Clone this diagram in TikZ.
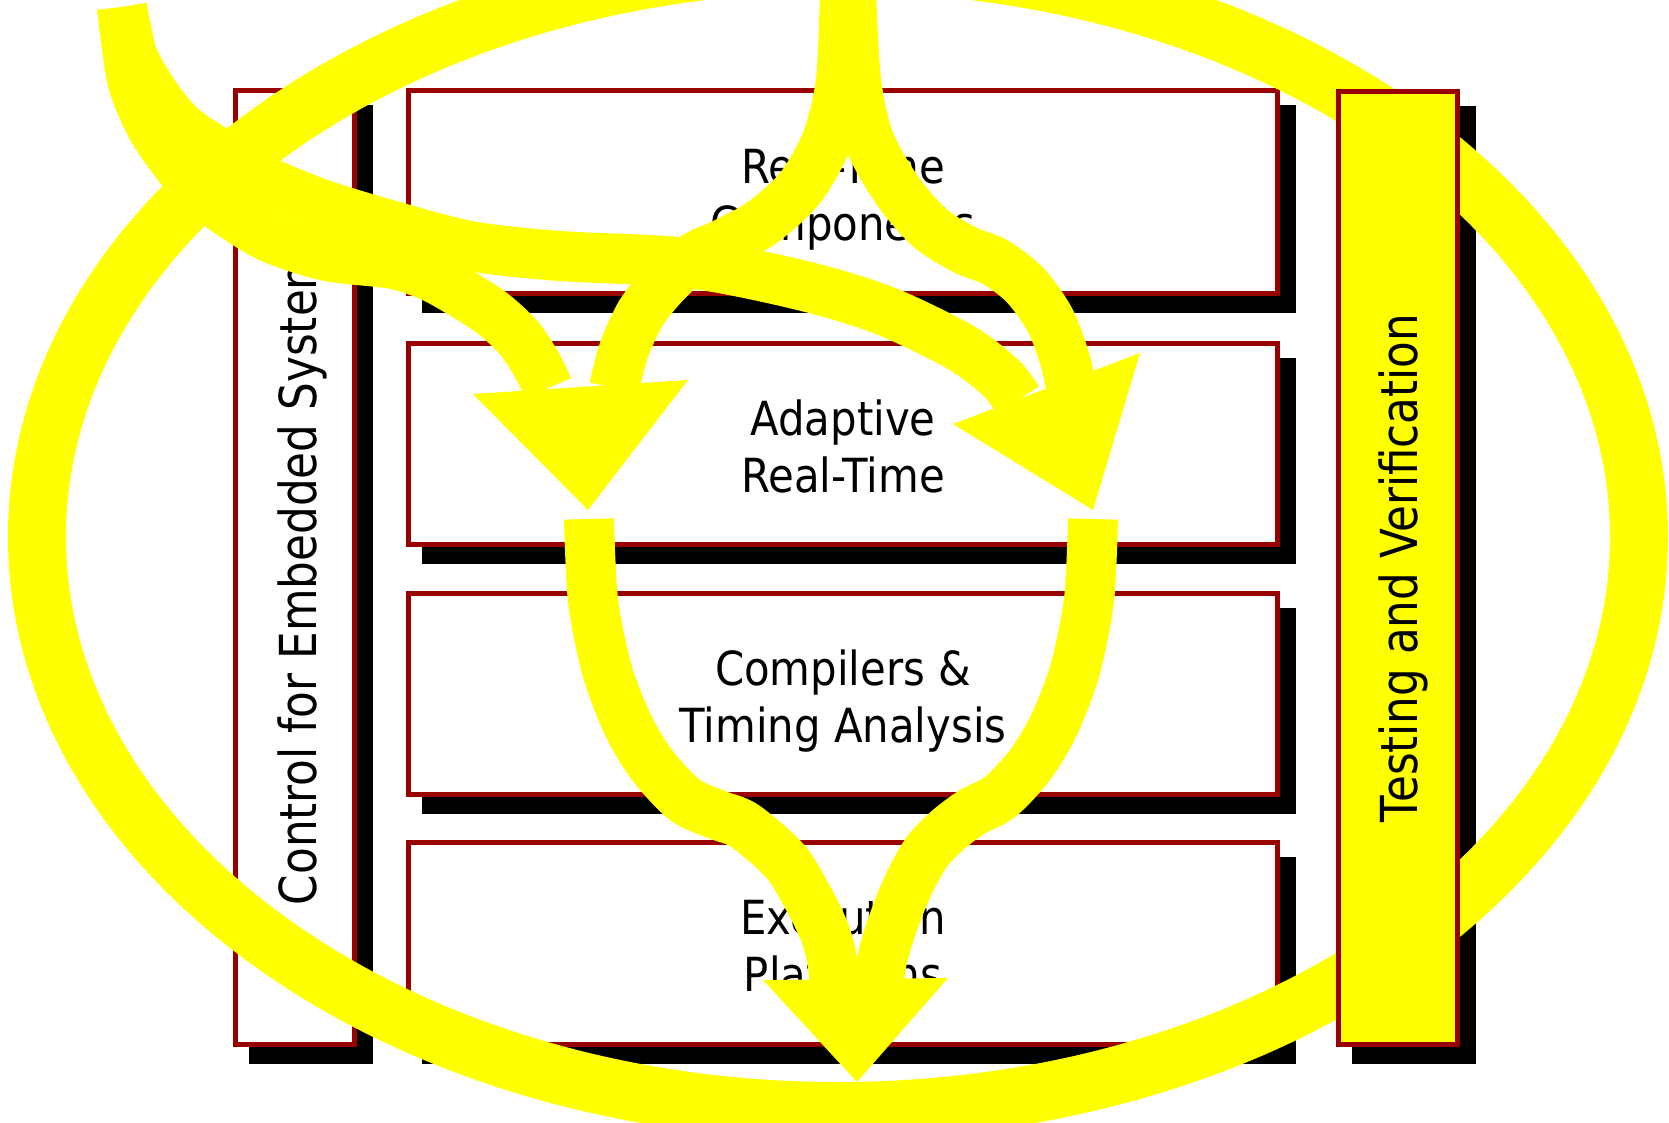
\documentclass[tikz,border=0pt]{standalone}
\usepackage{fontspec}
\setmainfont{DejaVu Sans}
\newfontfamily\boxfont[FakeStretch=0.89]{DejaVu Sans}
\newfontfamily\leftlabfont[FakeStretch=0.857]{DejaVu Sans}
\newfontfamily\rightlabfont[FakeStretch=0.855]{DejaVu Sans}
\definecolor{boxred}{HTML}{990000}
\definecolor{hiyel}{HTML}{FFFF00}
\begin{document}
\begin{tikzpicture}[x=1pt,y=-1pt,
  shadowrect/.style={fill=black},
  framerect/.style={draw=boxred,line width=5pt,fill=white},
  yelframe/.style={draw=boxred,line width=5pt,fill=hiyel},
  boxtext/.style={font=\boxfont\fontsize{47}{57}\selectfont,align=center,inner sep=0pt},
  sidetext/.style={rotate=90,anchor=base,inner sep=0pt},
  band/.style={draw=hiyel,line width=50pt},
  ring/.style={draw=hiyel,line width=58pt},
  headtri/.style={fill=hiyel}]
\path[use as bounding box] (0,0) rectangle (1669,1123);
\clip (0,0) rectangle (1669,1123);
\fill[white] (0,0) rectangle (1669,1123);

% shadows
\fill[shadowrect] (249,105.5) rectangle (373,1064);
\fill[shadowrect] (422,105.5) rectangle (1296,313);
\fill[shadowrect] (422,358) rectangle (1296,564);
\fill[shadowrect] (422,608) rectangle (1296,814);
\fill[shadowrect] (422,857) rectangle (1296,1064);
\fill[shadowrect] (1352,106) rectangle (1476,1064);

% left and middle boxes
\draw[framerect] (235.5,91) rectangle (354,1044.5);
\draw[framerect] (408.5,91) rectangle (1277.5,293.5);
\draw[framerect] (408.5,343.5) rectangle (1277.5,544.5);
\draw[framerect] (408.5,593.5) rectangle (1277.5,794.5);
\draw[framerect] (408.5,842.5) rectangle (1277.5,1044.5);

\node[boxtext] (rtc) at (843,200.3) {\strut Real-Time\\\strut Components};
\node[boxtext] (art) at (843,452.1) {\strut Adaptive\\\strut Real-Time};
\node[boxtext] (cta) at (843,702.1) {\strut Compilers \&\\\strut Timing Analysis};
\node[boxtext] (exp) at (843,951.6) {\strut Execution\\\strut Platforms};
\node[sidetext,font=\leftlabfont\fontsize{51}{60}\selectfont] (ces) at (316,565) {Control for Embedded Systems};

% big ring
\draw[ring] (838,537) ellipse [x radius=801pt, y radius=574pt];

% right box above the ring
\draw[yelframe] (1338.5,91.5) rectangle (1457.5,1044.5);
\node[sidetext,font=\rightlabfont\fontsize{51}{60}\selectfont] (tav) at (1417,568) {Testing and Verification};

% arrow tails and heads
\coordinate (tailL) at (122,7);
\coordinate (tailC1) at (845,-10);
\coordinate (tailC2) at (851,-10);
\coordinate (tailB1) at (589,519);
\coordinate (tailB2) at (1093,519);
\coordinate (tipL) at (588,510);
\coordinate (tipR) at (1093,510);
\coordinate (tipB) at (857,1082);

% A1: top-left to left head
\draw[band] plot[smooth] coordinates {(tailL) (132,79) (150,124) (171,156) (195,185) (221,207) (269,237) (327,256) (393,264) (430,276) (461,293) (492,313) (519,338) (538,367) (548,388)};
% A2: top-left to right head
\draw[band] plot[smooth] coordinates {(tailL) (133,57) (156,97) (182,128) (219,153) (261,179) (318,203) (386,224) (470,246) (560,256) (688,263) (800,285) (883,310) (960,347) (1000,377) (1018,400)};
% A3: top-centre to left head
\draw[band] plot[smooth] coordinates {(tailC1) (841,80) (827,140) (800,188) (763,222) (725,243) (693,258) (665,283) (641,313) (624,350) (614,388)};
% A4: top-centre to right head
\draw[band] plot[smooth] coordinates {(tailC2) (856,80) (869,140) (897,190) (930,228) (965,250) (995,262) (1025,285) (1050,320) (1065,360) (1072,392)};
% B1
\draw[band] plot[smooth] coordinates {(tailB1) (593,600) (607,670) (628,725) (652,765) (685,800) (718,815) (745,826) (785,861) (808,898) (825,933) (832,960) (836,990)};
% B2
\draw[band] plot[smooth] coordinates {(tailB2) (1089,600) (1075,670) (1054,725) (1030,765) (1000,797) (972,812) (948,830) (926,853) (907,888) (892,926) (882,960) (878,990)};

\fill[headtri] (473,394) -- (688,380) -- (tipL) -- cycle;
\fill[headtri] (953,424) -- (1140,353) -- (tipR) -- cycle;
\fill[headtri] (763,980) -- (948,978) -- (tipB) -- cycle;
\end{tikzpicture}
\end{document}
